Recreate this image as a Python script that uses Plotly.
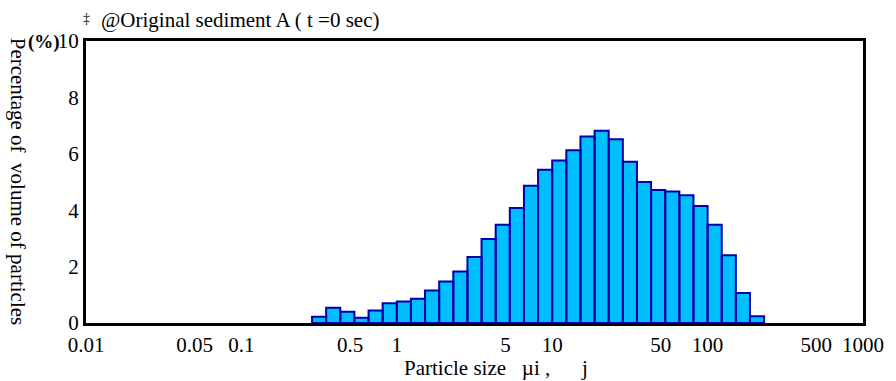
import plotly.graph_objects as go

# Bin edges (um), 11 bins per decade
bin_edges = [0.2848, 0.3511, 0.4329, 0.5337, 0.6579, 0.8111, 1.0, 1.2328, 1.5199,
             1.8738, 2.3101, 2.8480, 3.5112, 4.3288, 5.3367, 6.5793, 8.1113, 10.0,
             12.328, 15.199, 18.738, 23.101, 28.480, 35.112, 43.288, 53.367, 65.793,
             81.113, 100.0, 123.28, 151.99, 187.38, 231.01]
# Percentage of volume per bin
volume_pct = [0.22, 0.54, 0.40, 0.19, 0.44, 0.70, 0.76, 0.86, 1.15, 1.47, 1.83,
              2.34, 2.98, 3.48, 4.08, 4.87, 5.43, 5.76, 6.13, 6.61, 6.82, 6.52,
              5.72, 5.00, 4.72, 4.66, 4.53, 4.15, 3.48, 2.40, 1.06, 0.24]

x_tick_vals = [0.01, 0.05, 0.1, 0.5, 1, 5, 10, 50, 100, 500, 1000]
x_tick_text = ["0.01", "0.05", "0.1", "0.5", "1", "5", "10", "50", "100", "500", "1000"]
y_tick_vals = [0, 2, 4, 6, 8, 10]
y_tick_text = ["0", "2", "4", "6", "8", "10"]

FONT = "Liberation Serif"
FS = 21

xs, ys = [], []
for i, h in enumerate(volume_pct):
    l, r = bin_edges[i], bin_edges[i + 1]
    xs += [l, l, r, r, l, None]
    ys += [0, h, h, 0, 0, None]

fig = go.Figure()
fig.add_trace(go.Scatter(
    x=xs, y=ys, mode="lines", fill="toself",
    fillcolor="#00BFFF", line=dict(color="#0000AA", width=2),
    connectgaps=False, hoverinfo="skip", showlegend=False,
))

fig.update_layout(
    width=896, height=381,
    margin=dict(l=86, r=30, t=41, b=58),
    plot_bgcolor="white", paper_bgcolor="white",
    font=dict(family=FONT, size=FS, color="black"),
    showlegend=False,
    xaxis=dict(
        type="log", range=[-2, 3],
        tickvals=x_tick_vals, ticktext=x_tick_text,
        showgrid=False, zeroline=False, ticks="",
        showline=True, linecolor="black", linewidth=3, mirror=True,
        tickfont=dict(family=FONT, size=FS, color="black"),
        ticklabelstandoff=1,
    ),
    yaxis=dict(
        range=[0, 10],
        tickvals=y_tick_vals, ticktext=y_tick_text,
        showgrid=False, zeroline=False, ticks="",
        showline=True, linecolor="black", linewidth=3, mirror=True,
        tickfont=dict(family=FONT, size=FS, color="black"),
        ticklabelstandoff=0,
    ),
    annotations=[
        dict(text="‡", xref="paper", yref="paper", x=(87 - 86) / 780, y=1 + (41 - 18) / 282,
             xanchor="center", yanchor="middle", showarrow=False,
             font=dict(family=FONT, size=14, color="black")),
        dict(text="@Original sediment A ( t =0 sec)", xref="paper", yref="paper",
             x=(99 - 86) / 780, y=1 + (41 - 20) / 282,
             xanchor="left", yanchor="middle", showarrow=False,
             font=dict(family=FONT, size=FS, color="black")),
        dict(text="<b>(%)</b>", xref="paper", yref="paper",
             x=(44 - 86) / 780, y=1 + (41 - 42) / 282,
             xanchor="center", yanchor="middle", showarrow=False,
             font=dict(family=FONT, size=19, color="black")),
        dict(text="Percentage of  volume of particles", xref="paper", yref="paper",
             x=(18 - 86) / 780, y=(323 - 181) / 282, textangle=90,
             xanchor="center", yanchor="middle", showarrow=False,
             font=dict(family=FONT, size=FS, color="black")),
        dict(text="Particle size   µi ,", xref="paper", yref="paper",
             x=(403 - 86) / 780, y=(323 - 368) / 282,
             xanchor="left", yanchor="middle", showarrow=False,
             font=dict(family=FONT, size=FS, color="black")),
        dict(text="j", xref="paper", yref="paper",
             x=(586 - 86) / 780, y=(323 - 368) / 282,
             xanchor="center", yanchor="middle", showarrow=False,
             font=dict(family=FONT, size=FS, color="black")),
    ],
)

fig.write_html("out.html")
